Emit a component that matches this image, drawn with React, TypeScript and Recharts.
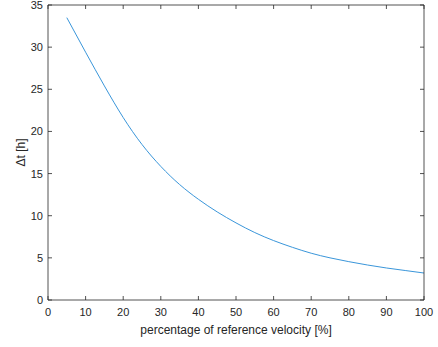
import React from 'react';
import { LineChart, Line, XAxis, YAxis } from 'recharts';

const velocityPct = [5, 10, 15, 20, 25, 30, 35, 40, 45, 50, 55, 60, 65, 70, 75, 80, 85, 90, 95, 100];
const deltaT = [33.5, 29.4, 25.4, 21.65, 18.45, 15.85, 13.7, 11.95, 10.45, 9.15, 8.0, 7.05, 6.25, 5.55, 5.0, 4.55, 4.15, 3.8, 3.5, 3.2];
const xTicks = [0, 10, 20, 30, 40, 50, 60, 70, 80, 90, 100];
const yTicks = [0, 5, 10, 15, 20, 25, 30, 35];

const data = velocityPct.map((v, i) => ({ v, t: deltaT[i] }));

const AX = '#262626';
const TXT = '#262626';
const FONT = '"Liberation Sans", Arial, Helvetica, sans-serif';

const BottomTick = (p: any) => (
  <g>
    <line x1={p.x} y1={p.y} x2={p.x} y2={p.y - 4} stroke={AX} strokeWidth={0.8} />
    <text x={p.x} y={p.y + 16} textAnchor="middle" fill={TXT} fontSize={11} fontFamily={FONT}>{p.payload.value}</text>
  </g>
);
const TopTick = (p: any) => (
  <line x1={p.x} y1={p.y} x2={p.x} y2={p.y + 4} stroke={AX} strokeWidth={0.8} />
);
const LeftTick = (p: any) => (
  <g>
    <line x1={p.x} y1={p.y} x2={p.x + 4} y2={p.y} stroke={AX} strokeWidth={0.8} />
    <text x={p.x - 5} y={p.y + 4} textAnchor="end" fill={TXT} fontSize={11} fontFamily={FONT}>{p.payload.value}</text>
  </g>
);
const RightTick = (p: any) => (
  <line x1={p.x} y1={p.y} x2={p.x - 4} y2={p.y} stroke={AX} strokeWidth={0.8} />
);

export default function App() {
  return (
    <div style={{ position: 'absolute', left: 0, top: 0, background: '#fff' }}>
      <LineChart width={438} height={347} data={data} margin={{ top: 4, right: 13, left: 0, bottom: 0 }}>
        <XAxis
          dataKey="v"
          type="number"
          domain={[0, 100]}
          ticks={xTicks}
          interval={0}
          height={47}
          tickSize={0}
          tickMargin={0}
          tickLine={false}
          axisLine={{ stroke: AX, strokeWidth: 0.8 }}
          tick={<BottomTick />}
          label={(props: any) => {
            const vb = props.viewBox;
            return (
              <text x={vb.x + vb.width / 2} y={vb.y + 34} textAnchor="middle" fill={TXT} fontSize={12} fontFamily={FONT}>
                percentage of reference velocity [%]
              </text>
            );
          }}
        />
        <XAxis
          xAxisId="top"
          orientation="top"
          dataKey="v"
          type="number"
          domain={[0, 100]}
          ticks={xTicks}
          interval={0}
          height={1}
          tickSize={0}
          tickMargin={0}
          tickLine={false}
          axisLine={{ stroke: AX, strokeWidth: 0.8 }}
          tick={<TopTick />}
        />
        <YAxis
          type="number"
          domain={[0, 35]}
          ticks={yTicks}
          interval={0}
          width={48}
          tickSize={0}
          tickMargin={0}
          tickLine={false}
          axisLine={{ stroke: AX, strokeWidth: 0.8 }}
          tick={<LeftTick />}
          label={(props: any) => {
            const vb = props.viewBox;
            const cx = vb.x + 21;
            const cy = vb.y + vb.height / 2;
            return (
              <text x={cx} y={cy} transform={`rotate(-90 ${cx} ${cy})`} textAnchor="middle" dominantBaseline="central" fill={TXT} fontSize={12} fontFamily={FONT}>
                Δt [h]
              </text>
            );
          }}
        />
        <YAxis
          yAxisId="right"
          orientation="right"
          type="number"
          domain={[0, 35]}
          ticks={yTicks}
          interval={0}
          width={1}
          tickSize={0}
          tickMargin={0}
          tickLine={false}
          axisLine={{ stroke: AX, strokeWidth: 0.8 }}
          tick={<RightTick />}
        />
        <Line xAxisId="top" yAxisId="right" type="natural" dataKey="t" stroke="none" dot={false} activeDot={false} legendType="none" isAnimationActive={false} />
        <Line type="natural" dataKey="t" stroke="#3a96da" strokeWidth={1} dot={false} isAnimationActive={false} />
      </LineChart>
    </div>
  );
}
